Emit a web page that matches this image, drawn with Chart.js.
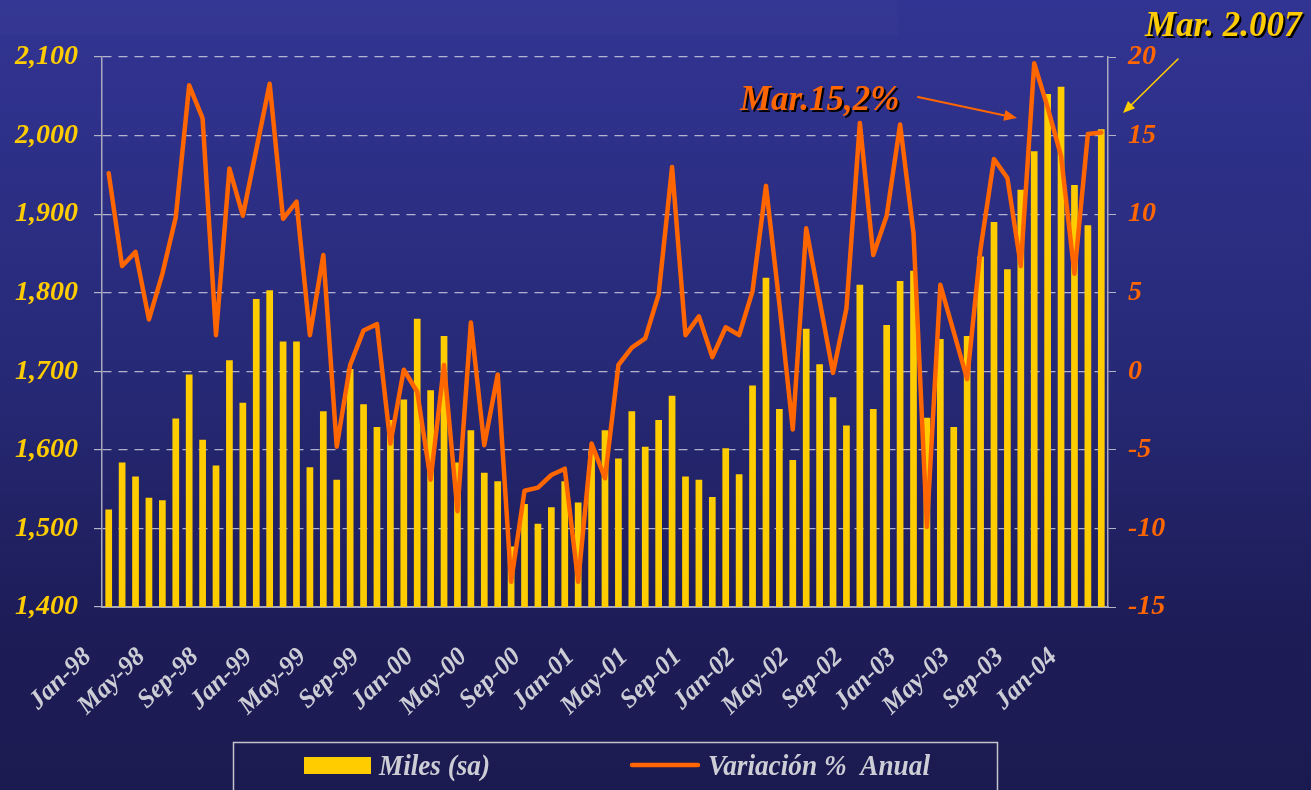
<!DOCTYPE html>
<html>
<head>
<meta charset="utf-8">
<script src="https://cdn.jsdelivr.net/npm/chart.js@4.4.1/dist/chart.umd.min.js"></script>
<style>
  body { margin: 0; background: #1b1a50; }
  #wrap { width: 1311px; height: 790px; position: relative; }
</style>
</head>
<body>
<div id="wrap"><canvas id="myChart"></canvas></div>
<script>
var months = [
    'Jan-98', 'Feb-98', 'Mar-98', 'Apr-98', 'May-98', 'Jun-98', 'Jul-98', 'Aug-98', 'Sep-98', 'Oct-98', 'Nov-98', 'Dec-98',
    'Jan-99', 'Feb-99', 'Mar-99', 'Apr-99', 'May-99', 'Jun-99', 'Jul-99', 'Aug-99', 'Sep-99', 'Oct-99', 'Nov-99', 'Dec-99',
    'Jan-00', 'Feb-00', 'Mar-00', 'Apr-00', 'May-00', 'Jun-00', 'Jul-00', 'Aug-00', 'Sep-00', 'Oct-00', 'Nov-00', 'Dec-00',
    'Jan-01', 'Feb-01', 'Mar-01', 'Apr-01', 'May-01', 'Jun-01', 'Jul-01', 'Aug-01', 'Sep-01', 'Oct-01', 'Nov-01', 'Dec-01',
    'Jan-02', 'Feb-02', 'Mar-02', 'Apr-02', 'May-02', 'Jun-02', 'Jul-02', 'Aug-02', 'Sep-02', 'Oct-02', 'Nov-02', 'Dec-02',
    'Jan-03', 'Feb-03', 'Mar-03', 'Apr-03', 'May-03', 'Jun-03', 'Jul-03', 'Aug-03', 'Sep-03', 'Oct-03', 'Nov-03', 'Dec-03',
    'Jan-04', 'Feb-04', 'Mar-04'
]

// Miles (sa) - left axis
var miles = [
    1524, 1584, 1566, 1539, 1536, 1640, 1696, 1613, 1580, 1714, 1660, 1792,
    1803, 1738, 1738, 1578, 1649, 1562, 1703, 1658, 1629, 1638, 1664, 1767,
    1676, 1745, 1584, 1625, 1571, 1560, 1477, 1531, 1506, 1527, 1560, 1533,
    1599, 1625, 1589, 1649, 1604, 1638, 1669, 1566, 1562, 1540, 1602, 1569,
    1682, 1819, 1652, 1587, 1754, 1709, 1667, 1631, 1810, 1652, 1759, 1815,
    1828, 1641, 1741, 1629, 1745, 1846, 1890, 1830, 1931, 1980, 2053, 2062,
    1937, 1886, 2008
]

// Variacion % anual - right axis
var variacion = [
    12.6, 6.7, 7.6, 3.3, 6.2, 9.8, 18.2, 16.1, 2.3, 12.9, 9.9, 14.1,
    18.3, 9.7, 10.8, 2.3, 7.4, -4.8, 0.4, 2.6, 3.0, -4.6, 0.1, -1.3,
    -6.9, 0.4, -8.9, 3.1, -4.7, -0.2, -13.4, -7.6, -7.4, -6.6, -6.2, -13.4,
    -4.6, -6.8, 0.4, 1.5, 2.1, 4.9, 13.0, 2.3, 3.5, 0.9, 2.8, 2.3,
    5.1, 11.8, 4.3, -3.7, 9.1, 4.5, -0.1, 4.0, 15.8, 7.4, 9.9, 15.7,
    8.8, -9.9, 5.5, 2.5, -0.5, 7.8, 13.5, 12.3, 6.7, 19.6, 16.8, 13.7,
    6.2, 15.1, 15.2
]

var leftTicks = { min: 1400, max: 2100, step: 100 }
var rightTicks = { min: -15, max: 20, step: 5 }

var seriesNames = ['Miles (sa)', 'Variación %  Anual']
var notes = ['Mar.15,2%', 'Mar. 2.007']

var GOLD = '#FFCC00'
var ORANGE = '#FF6600'
var GREY = '#cdcdd6'
var SERIF = '"Liberation Serif", "Times New Roman", serif'

function drawArrow(ctx, x1, y1, x2, y2, color, width, head) {
    var a = Math.atan2(y2 - y1, x2 - x1);
    ctx.save();
    ctx.strokeStyle = color;
    ctx.fillStyle = color;
    ctx.lineWidth = width;
    ctx.beginPath();
    ctx.moveTo(x1, y1);
    ctx.lineTo(x2 - Math.cos(a) * head * 0.8, y2 - Math.sin(a) * head * 0.8);
    ctx.stroke();
    ctx.beginPath();
    ctx.moveTo(x2, y2);
    ctx.lineTo(x2 - head * Math.cos(a - 0.4), y2 - head * Math.sin(a - 0.4));
    ctx.lineTo(x2 - head * Math.cos(a + 0.4), y2 - head * Math.sin(a + 0.4));
    ctx.closePath();
    ctx.fill();
    ctx.restore();
}

function shadowText(ctx, text, x, y, color) {
    ctx.fillStyle = '#000000';
    ctx.fillText(text, x + 2, y + 2);
    ctx.fillStyle = color;
    ctx.fillText(text, x, y);
}

function fitText(ctx, text, x, y, width) {
    var w = ctx.measureText(text).width;
    ctx.save();
    ctx.translate(x, y);
    ctx.scale(width / w, 1);
    ctx.fillText(text, 0, 0);
    ctx.restore();
}

var background = {
    id: 'background',
    beforeDraw: function(chart) {
        var ctx = chart.ctx;
        var g = ctx.createLinearGradient(0, 0, 0, chart.height);
        g.addColorStop(0, '#323493');
        g.addColorStop(0.45, '#272a78');
        g.addColorStop(0.8, '#1d1c57');
        g.addColorStop(1, '#1b1a50');
        ctx.save();
        ctx.fillStyle = g;
        ctx.fillRect(0, 0, chart.width, chart.height);
        ctx.fillStyle = 'rgba(255,255,255,0.015)';
        ctx.fillRect(0, 0, 898, 35);
        ctx.restore();
    }
}

var extras = {
    id: 'extras',
    afterDraw: function(chart) {
        var ctx = chart.ctx;
        ctx.save();

        // legend box
        ctx.strokeStyle = '#c4c4cc';
        ctx.lineWidth = 1.5;
        ctx.strokeRect(233.5, 742.5, 764, 60);
        ctx.fillStyle = GOLD;
        ctx.fillRect(304, 757, 67, 17);
        ctx.strokeStyle = ORANGE;
        ctx.lineWidth = 4.5;
        ctx.lineCap = 'round';
        ctx.beginPath();
        ctx.moveTo(632, 765);
        ctx.lineTo(698, 765);
        ctx.stroke();
        ctx.font = 'italic bold 30px ' + SERIF;
        ctx.textBaseline = 'alphabetic';
        ctx.fillStyle = GREY;
        fitText(ctx, seriesNames[0], 379, 775, 111);
        fitText(ctx, seriesNames[1], 708, 775, 222);

        // notes
        ctx.font = 'italic bold 35px ' + SERIF;
        shadowText(ctx, notes[0], 740, 110, ORANGE);
        shadowText(ctx, notes[1], 1145, 36, GOLD);

        drawArrow(ctx, 918, 97, 1017, 118, ORANGE, 2, 14);
        drawArrow(ctx, 1178, 59, 1123, 113, GOLD, 1.6, 13);
        ctx.restore();
    }
}

function initialiseChart() {
    const ctx = document.getElementById('myChart');
    const myChart = new Chart(ctx, {
        data: {
            labels: months,
            datasets: [{
                type: 'line',
                label: seriesNames[1],
                data: variacion,
                yAxisID: 'y1',
                borderColor: ORANGE,
                borderWidth: 4.5,
                borderJoinStyle: 'round',
                borderCapStyle: 'round',
                pointRadius: 0,
                tension: 0,
                order: 0
            }, {
                type: 'bar',
                label: seriesNames[0],
                data: miles,
                yAxisID: 'y',
                backgroundColor: GOLD,
                barPercentage: 0.5,
                categoryPercentage: 1,
                order: 1
            }]
        },
        options: {
            responsive: true,
            maintainAspectRatio: false,
            animation: false,
            layout: { padding: { top: 57 } },
            plugins: {
                legend: { display: false },
                tooltip: { enabled: false }
            },
            scales: {
                x: {
                    afterFit: function(scale) { scale.height = 183; },
                    grid: { display: false },
                    border: { display: true, color: '#a9a9bb', width: 2 },
                    ticks: {
                        autoSkip: false,
                        minRotation: 44,
                        maxRotation: 44,
                        padding: 27,
                        labelOffset: -21,
                        color: GREY,
                        font: { family: SERIF, size: 26, weight: 'bold', style: 'italic' },
                        callback: function(value, index) {
                            return index % 4 === 0 ? months[index] : '';
                        }
                    }
                },
                y: {
                    position: 'left',
                    min: leftTicks.min,
                    max: leftTicks.max,
                    afterFit: function(scale) { scale.width = 102; },
                    grid: {
                        color: 'rgba(214,214,228,0.8)',
                        lineWidth: 1.2,
                        tickLength: 8,
                        tickColor: '#b4b4c4',
                        tickBorderDash: []
                    },
                    border: { display: true, color: '#a9a9bb', width: 1.5, dash: [9, 7] },
                    ticks: {
                        stepSize: leftTicks.step,
                        padding: 16,
                        color: GOLD,
                        font: { family: SERIF, size: 28, weight: 'bold', style: 'italic' },
                        callback: function(value) {
                            return value.toLocaleString('en-US');
                        }
                    }
                },
                y1: {
                    position: 'right',
                    min: rightTicks.min,
                    max: rightTicks.max,
                    afterFit: function(scale) { scale.width = 203; },
                    grid: {
                        drawOnChartArea: false,
                        tickLength: 8,
                        tickColor: '#b4b4c4'
                    },
                    border: { display: true, color: '#a9a9bb', width: 1.5 },
                    ticks: {
                        stepSize: rightTicks.step,
                        padding: 12,
                        color: ORANGE,
                        font: { family: SERIF, size: 28, weight: 'bold', style: 'italic' }
                    }
                }
            }
        },
        plugins: [background, extras]
    });
}

initialiseChart();
</script>
</body>
</html>
